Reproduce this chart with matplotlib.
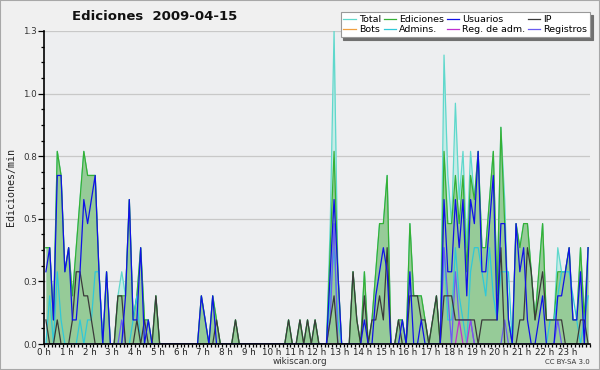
import numpy as np
import matplotlib
matplotlib.use("Agg")
import matplotlib.pyplot as plt
from matplotlib.patches import Rectangle

# counts per 10-minute interval (value shown = count / 10 edits per minute), 144 intervals
ediciones = [4,4,1,8,7,3, 4,2,4,6,8,7, 7,7,3,0,3,0, 0,2,2,2,6,1, 2,4,1,1,0,2,
             0,0,0,0,0,0, 0,0,0,0,0,2, 1,0,2,1,0,0, 0,0,1,0,0,0, 0,0,0,0,0,0,
             0,0,0,0,1,0, 0,1,0,1,0,1, 0,0,0,4,8,3, 0,0,0,3,1,0, 3,0,1,3,5,5,
             7,0,0,1,1,0, 5,2,2,2,1,0, 1,2,0,8,5,5, 7,5,7,3,7,6, 8,4,4,6,8,2,
             9,5,1,0,5,4, 5,5,3,1,3,5, 1,1,1,3,3,3, 4,1,1,4,1,4]
usuarios = [3,4,1,7,7,3, 4,1,1,3,6,5, 6,7,3,0,3,0, 0,0,0,2,6,1, 1,4,0,1,0,0,
            0,0,0,0,0,0, 0,0,0,0,0,2, 1,0,2,0,0,0, 0,0,0,0,0,0, 0,0,0,0,0,0,
            0,0,0,0,0,0, 0,0,0,0,0,0, 0,0,0,3,6,3, 0,0,0,0,0,0, 1,0,0,2,3,4,
            3,0,0,0,1,0, 3,0,0,1,0,0, 0,0,0,6,3,3, 6,4,6,2,6,5, 8,3,3,5,7,1,
            5,5,1,0,5,3, 4,1,0,0,1,2, 0,0,0,2,2,3, 4,1,1,3,0,4]
ip = [1,0,0,1,0,0, 0,1,3,3,2,2, 1,0,0,0,0,0, 0,2,2,0,0,0, 1,0,1,0,0,2,
      0,0,0,0,0,0, 0,0,0,0,0,0, 0,0,0,1,0,0, 0,0,1,0,0,0, 0,0,0,0,0,0,
      0,0,0,0,1,0, 0,1,0,1,0,1, 0,0,0,1,2,0, 0,0,0,3,1,0, 2,0,1,1,2,1,
      4,0,0,1,0,0, 2,2,2,1,1,0, 1,2,0,2,2,2, 1,1,1,1,1,1, 0,1,1,1,1,1,
      4,0,0,0,0,1, 1,4,3,1,2,3, 1,1,1,1,1,0, 0,0,0,1,1,0]
registros = [0,0,0,0,0,0, 0,0,0,0,0,0, 0,0,0,0,0,0, 0,0,1,0,0,0, 0,0,0,0,0,0,
             0,0,0,0,0,0, 0,0,0,0,0,0, 0,0,0,0,0,0, 0,0,0,0,0,0, 0,0,0,0,0,0,
             0,0,0,0,0,0, 0,0,0,0,0,0, 0,0,0,1,5,0, 0,0,0,0,0,0, 0,0,0,0,0,0,
             0,0,0,0,0,0, 0,0,0,0,0,0, 0,0,0,4,2,0, 3,1,1,1,1,0, 0,0,0,0,0,0,
             0,1,0,0,0,0, 0,0,0,0,0,0, 0,0,0,1,0,0, 0,0,0,0,0,0]
total = [4,4,1,8,7,3, 4,2,4,6,8,7, 7,7,3,0,3,0, 0,2,3,2,6,1, 2,4,1,1,0,2,
         0,0,0,0,0,0, 0,0,0,0,0,2, 1,0,2,1,0,0, 0,0,1,0,0,0, 0,0,0,0,0,0,
         0,0,0,0,1,0, 0,1,0,1,0,1, 0,0,0,5,13,3, 0,0,0,3,1,0, 3,0,1,3,5,5,
         7,0,0,1,1,0, 5,2,2,2,1,0, 1,2,0,12,7,5, 10,6,8,4,8,6, 8,4,4,6,8,2,
         9,6,1,0,5,4, 5,5,3,1,3,5, 1,1,1,4,3,3, 4,1,1,4,1,4]
admins = [0,2,0,3,1,0, 0,0,0,1,0,1, 1,3,3,0,0,0, 0,0,0,0,0,1, 2,0,0,0,0,0,
          0,0,0,0,0,0, 0,0,0,0,0,0, 0,0,0,0,0,0, 0,0,0,0,0,0, 0,0,0,0,0,0,
          0,0,0,0,0,0, 0,0,0,0,0,0, 0,0,0,2,4,1, 0,0,0,0,0,0, 0,0,0,0,0,0,
          0,0,0,0,0,0, 0,0,0,0,0,0, 0,0,0,4,1,1, 4,2,1,0,3,4, 4,3,2,4,2,1,
          3,3,3,0,0,0, 0,0,0,0,0,0, 0,1,1,2,3,3, 3,2,1,0,1,2]
reg_adm = [0]*109 + [1,0,0,1] + [0]*31
bots = [0]*144

hour_labels = [f"{h} h" for h in range(24)]
y_tick_labels = ["0.0", "0.3", "0.5", "0.8", "1.0", "1.3"]

def per_min(a):
    return np.array(a, dtype=float) / 10.0

x = np.arange(144) + 0.5

fig = plt.figure(figsize=(6.0, 3.7), dpi=100, facecolor="#f0f0f0")
ax = fig.add_axes([44/600, 26/370, 546/600, 313/370])
ax.set_facecolor("#edeef0")

ax.fill_between(x, per_min(total), color="#c6ece6", lw=0, zorder=2)
ax.plot(x, per_min(total), color="#5fd8cc", lw=0.9, zorder=3, label="Total")
ax.fill_between(x, per_min(ediciones), color="#96cb98", lw=0, zorder=4)
ax.plot(x, per_min(ediciones), color="#35b035", lw=0.9, zorder=5, label="Ediciones")
ax.plot(x, per_min(bots), color="#f0a040", lw=0.9, zorder=6, label="Bots")
ax.plot(x, per_min(admins), color="#30c8d8", lw=0.9, zorder=7, label="Admins.")
ax.plot(x, per_min(reg_adm), color="#c030d0", lw=0.9, zorder=8, label="Reg. de adm.")
ax.plot(x, per_min(registros), color="#6a5cf0", lw=0.9, zorder=9, label="Registros")
ax.plot(x, per_min(ip), color="#3a3a3a", lw=0.9, zorder=10, label="IP")
ax.plot(x, per_min(usuarios), color="#1010e8", lw=0.9, zorder=11, label="Usuarios")

ax.set_xlim(0, 144)
ax.set_ylim(0, 1.3)
yt = np.linspace(0, 1.3, 6)
ax.set_yticks(yt)
ax.set_yticklabels(y_tick_labels, fontsize=6.3, color="#333333")
ax.set_yticks(np.linspace(0, 1.3, 21), minor=True)
ax.set_xticks(np.arange(0, 144, 6))
ax.set_xticklabels(hour_labels, fontsize=6.3, color="#222222")
ax.set_xticks(np.arange(0, 145, 1), minor=True)
ax.tick_params(axis="y", which="major", length=4, width=0.9, pad=1, color="black")
ax.tick_params(axis="y", which="minor", length=2.5, width=0.9, color="black")
ax.tick_params(axis="x", which="major", length=2.5, width=0.9, pad=0.5, color="black")
ax.tick_params(axis="x", which="minor", length=2.5, width=0.9, color="black")
ax.grid(axis="y", which="major", color="#c8c8c8", lw=0.9, zorder=1)
ax.set_axisbelow(True)
for s in ("top", "right"):
    ax.spines[s].set_visible(False)
for s in ("left", "bottom"):
    ax.spines[s].set_linewidth(1.2)
    ax.spines[s].set_zorder(20)

handles, labels = ax.get_legend_handles_labels()
order = ["Total", "Bots", "Ediciones", "Admins.", "Usuarios", "Reg. de adm.", "IP", "Registros"]
hmap = dict(zip(labels, handles))
leg = fig.legend([hmap[k] for k in order], order, ncol=4, loc="upper right",
                 bbox_to_anchor=(590/600, 1 - 12/370), fontsize=6.8, frameon=True,
                 fancybox=False, shadow={"color": "#707070", "alpha": 1},
                 handlelength=1.3, handletextpad=0.35, columnspacing=0.25,
                 labelspacing=0.12, borderpad=0.3, borderaxespad=0)
leg.get_frame().set_edgecolor("#999999")
leg.get_frame().set_linewidth(0.8)
leg.set_zorder(30)

fig.text(155/600, 1 - 16/370, "Ediciones  2009-04-15", fontsize=9.5, fontweight="bold",
         ha="center", va="center", color="#111111")
fig.text(11/600, 1 - 187/370, "Ediciones/min", fontsize=7.2, rotation=90,
         ha="center", va="center", family="DejaVu Sans Mono", color="#222222")
fig.text(300/600, 1 - 362/370, "wikiscan.org", fontsize=6.3, ha="center", va="center", color="#333333")
fig.text(567/600, 1 - 362/370, "CC BY-SA 3.0", fontsize=5, ha="center", va="center", color="#333333")

fig.patches.append(Rectangle((0, 0), 1, 1, transform=fig.transFigure, fill=False,
                             edgecolor="#a8a8a8", lw=1.5))
fig.savefig("out.png", dpi=100, facecolor=fig.get_facecolor())
